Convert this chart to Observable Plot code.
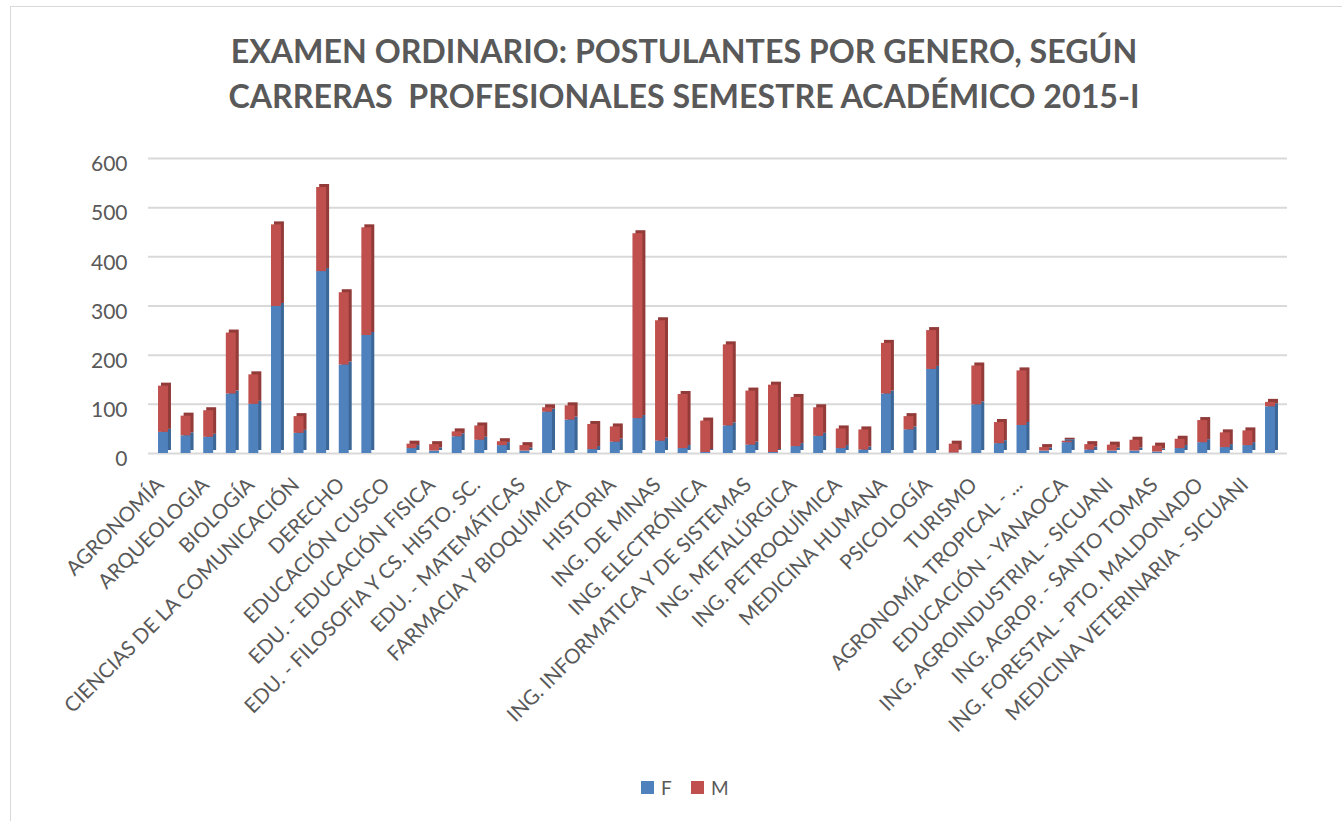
<!DOCTYPE html>
<html>
<head>
<meta charset="utf-8">
<script src="https://cdn.jsdelivr.net/npm/d3@7"></script>
<script src="https://cdn.jsdelivr.net/npm/@observablehq/plot@0.6"></script>
<style>
  html, body { margin: 0; padding: 0; background: #fff; overflow: hidden; width: 1342px; height: 821px; }
  #frame { position: absolute; left: 10px; top: 6px; width: 1400px; height: 900px; border: 1px solid #d9d9d9; box-sizing: border-box; }
  #title { position: absolute; left: 0; top: 28px; width: 1368px; text-align: center; font-family: Lato, sans-serif; font-weight: 700; font-size: 32.2px; line-height: 45px; color: #595959; white-space: pre; }
  #chart { position: absolute; left: 0; top: 140px; }
  #legend { position: absolute; top: 776px; left: 0; width: 1342px; font-family: Lato, sans-serif; font-size: 19px; color: #595959; }
  .sw { position: absolute; width: 13px; height: 13px; top: 5px; }
  .lt { position: absolute; top: 0; }
</style>
</head>
<body>
<div id="frame"></div>
<div id="title">EXAMEN ORDINARIO: POSTULANTES POR GENERO, SEGÚN
CARRERAS  PROFESIONALES SEMESTRE ACADÉMICO 2015-I</div>
<div id="chart"></div>
<div id="legend">
  <div class="sw" style="left:641px;background:#4F81BD"></div><div class="lt" style="left:661px">F</div>
  <div class="sw" style="left:691px;background:#C0504D"></div><div class="lt" style="left:711px">M</div>
</div>
<script>
const categories = [
  "AGRONOMÍA", "ANTROPOLOGÍA", "ARQUEOLOGIA", "ARQUITECTURA", "BIOLOGÍA",
  "CIENCIAS ADMINISTRATIVAS", "CIENCIAS DE LA COMUNICACIÓN", "CONTABILIDAD", "DERECHO", "ECONOMÍA",
  "EDUCACIÓN CUSCO", "EDU. - CIENCIAS NATURALES", "EDU. - EDUCACIÓN FISICA", "EDU. - EDUCACIÓN PRIMARIA", "EDU. - FILOSOFIA Y CS. HISTO. SC.",
  "EDU. - LENGUA Y LITERATURA", "EDU. - MATEMÁTICAS", "ENFERMERÍA", "FARMACIA Y BIOQUÍMICA", "FÍSICA",
  "HISTORIA", "ING. CIVIL", "ING. DE MINAS", "ING. ELÉCTRICA", "ING. ELECTRÓNICA",
  "ING. GEOLÓGICA", "ING. INFORMATICA Y DE SISTEMAS", "ING. MECÁNICA", "ING. METALÚRGICA", "ING. QUÍMICA",
  "ING. PETROQUÍMICA", "MATEMÁTICA", "MEDICINA HUMANA", "ODONTOLOGÍA", "PSICOLOGÍA",
  "QUÍMICA", "TURISMO", "ZOOTECNIA", "AGRONOMÍA TROPICAL - ...", "ECOTURISMO - PTO. MALDONADO",
  "EDUCACIÓN - YANAOCA", "ING. AGROINDUSTRIAL - ANDAHUAYLAS", "ING. AGROINDUSTRIAL - SICUANI", "ING. AGROP. - ESPINAR", "ING. AGROP. - SANTO TOMAS",
  "ING. CIVIL - ESPINAR", "ING. FORESTAL - PTO. MALDONADO", "ING. IND. ALIMENTARIAS - QUILLABAMBA", "MEDICINA VETERINARIA - SICUANI", "ZOOTECNIA - SICUANI"
];
const F = [
  43, 36, 33, 121, 100, 299, 41, 370, 180, 240,
  0, 10, 5, 34, 27, 16, 5, 84, 68, 8,
  23, 71, 25, 10, 2, 56, 17, 2, 14, 35,
  10, 7, 121, 48, 171, 1, 99, 20, 57, 5,
  22, 7, 5, 5, 3, 10, 22, 12, 16, 95
];
const M = [
  94, 40, 54, 124, 60, 166, 34, 171, 147, 219,
  0, 9, 13, 10, 29, 8, 11, 9, 29, 51,
  31, 376, 245, 110, 64, 165, 110, 137, 100, 58,
  40, 41, 103, 27, 79, 18, 79, 43, 111, 7,
  3, 11, 12, 22, 12, 19, 45, 30, 30, 9
];
const yTicks = [0, 100, 200, 300, 400, 500, 600];
const series = ["F", "M"];
const colors = ["#4F81BD", "#C0504D"];
const sideColors = ["#3B6696", "#923B39"];

const fRows = categories.map((c, i) => ({cat: c, y1: 0, y2: F[i]}));
const mRows = categories.map((c, i) => ({cat: c, y1: F[i], y2: F[i] + M[i]}));

const plot = Plot.plot({
  width: 1342,
  height: 620,
  marginLeft: 148,
  marginRight: 55,
  marginTop: 18,
  marginBottom: 307,
  style: {fontFamily: "Lato, sans-serif", color: "#595959", background: "transparent"},
  x: {domain: categories, range: [151.7, 1281.3], paddingInner: 0.56, paddingOuter: 0.28, round: false},
  y: {domain: [0, 600]},
  marks: [
    Plot.gridY(yTicks, {stroke: "#d9d9d9", strokeOpacity: 1, strokeWidth: 2}),
    Plot.barY(fRows, {x: "cat", y1: "y1", y2: "y2", fill: sideColors[0], dx: 3, dy: -3}),
    Plot.barY(mRows, {x: "cat", y1: "y1", y2: "y2", fill: sideColors[1], dx: 3, dy: -3}),
    Plot.barY(fRows, {x: "cat", y1: "y1", y2: "y2", fill: colors[0]}),
    Plot.barY(mRows, {x: "cat", y1: "y1", y2: "y2", fill: colors[1]}),
    Plot.axisY({ticks: yTicks, tickSize: 0, tickPadding: 21, fontSize: 21, dy: 6, label: null}),
    Plot.axisX({ticks: categories.filter((_, i) => i % 2 === 0), tickRotate: -45, tickSize: 0, tickPadding: 28, dx: -3, fontSize: 20.5, label: null})
  ]
});
document.getElementById("chart").appendChild(plot);
</script>
</body>
</html>
